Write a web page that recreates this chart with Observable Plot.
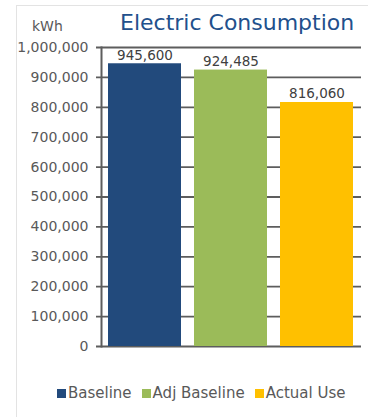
<!DOCTYPE html>
<html>
<head>
<meta charset="utf-8">
<script src="https://cdn.jsdelivr.net/npm/d3@7"></script>
<script src="https://cdn.jsdelivr.net/npm/@observablehq/plot@0.6"></script>
<style>
  html, body { margin: 0; padding: 0; background: #fff; }
  #wrap { position: relative; width: 368px; height: 417px; overflow: hidden; font-family: "DejaVu Sans", sans-serif; }
  #frame { position: absolute; left: 16px; top: 5px; width: 400px; height: 500px; border-left: 1px solid #e3e3e3; border-top: 1px solid #e3e3e3; }
  #title { position: absolute; left: 120px; top: 10px; font-size: 22px; color: #22508c; white-space: nowrap; }
  #unit { position: absolute; left: 32px; top: 18px; font-size: 14px; color: #595959; }
  #chart { position: absolute; left: 0; top: 38px; }
  #legend { position: absolute; top: 384px; left: 57px; display: flex; font-size: 15px; color: #595959; }
  .item { display: flex; align-items: center; margin-right: 10px; }
  .sw { width: 9px; height: 9px; margin-right: 2px; }
</style>
</head>
<body>
<div id="wrap">
  <div id="frame"></div>
  <div id="unit">kWh</div>
  <div id="title">Electric Consumption</div>
  <div id="chart"></div>
  <div id="legend"></div>
</div>
<script>
const categories = ["Baseline", "Adj Baseline", "Actual Use"];
const values = [945600, 924485, 816060];
const colors = ["#224a7c", "#9bbb59", "#ffc000"];
const yTicks = [0, 100000, 200000, 300000, 400000, 500000, 600000, 700000, 800000, 900000, 1000000];

const data = categories.map((c, i) => ({category: c, value: values[i]}));
const fmt = d3.format(",");

const chart = Plot.plot({
  width: 368,
  height: 322,
  marginLeft: 101,
  marginRight: 7,
  marginTop: 9,
  marginBottom: 14,
  style: {fontFamily: "DejaVu Sans, sans-serif", fontSize: "14px", color: "#595959", background: "transparent"},
  x: {domain: categories, paddingInner: 0.15, paddingOuter: 0.07, axis: null},
  y: {domain: [0, 1000000], ticks: yTicks, tickFormat: fmt, tickSize: 0, tickPadding: 13, label: null},
  color: {domain: categories, range: colors},
  marks: [
    Plot.ruleY(yTicks, {stroke: "#5d5d5d", strokeWidth: 1.8, insetLeft: -5}),
    Plot.frame({anchor: "left", stroke: "#5d5d5d", strokeWidth: 2}),
    Plot.barY(data, {x: "category", y: "value", fill: "category"}),
    Plot.text(data, {x: "category", y: "value", text: d => fmt(d.value), dy: -4, lineAnchor: "bottom", fill: "#404040", fontSize: 13.5})
  ]
});
document.getElementById("chart").appendChild(chart);

const legend = document.getElementById("legend");
categories.forEach((c, i) => {
  const item = document.createElement("div");
  item.className = "item";
  const sw = document.createElement("div");
  sw.className = "sw";
  sw.style.background = colors[i];
  const label = document.createElement("span");
  label.textContent = c;
  item.appendChild(sw);
  item.appendChild(label);
  legend.appendChild(item);
});
</script>
</body>
</html>
